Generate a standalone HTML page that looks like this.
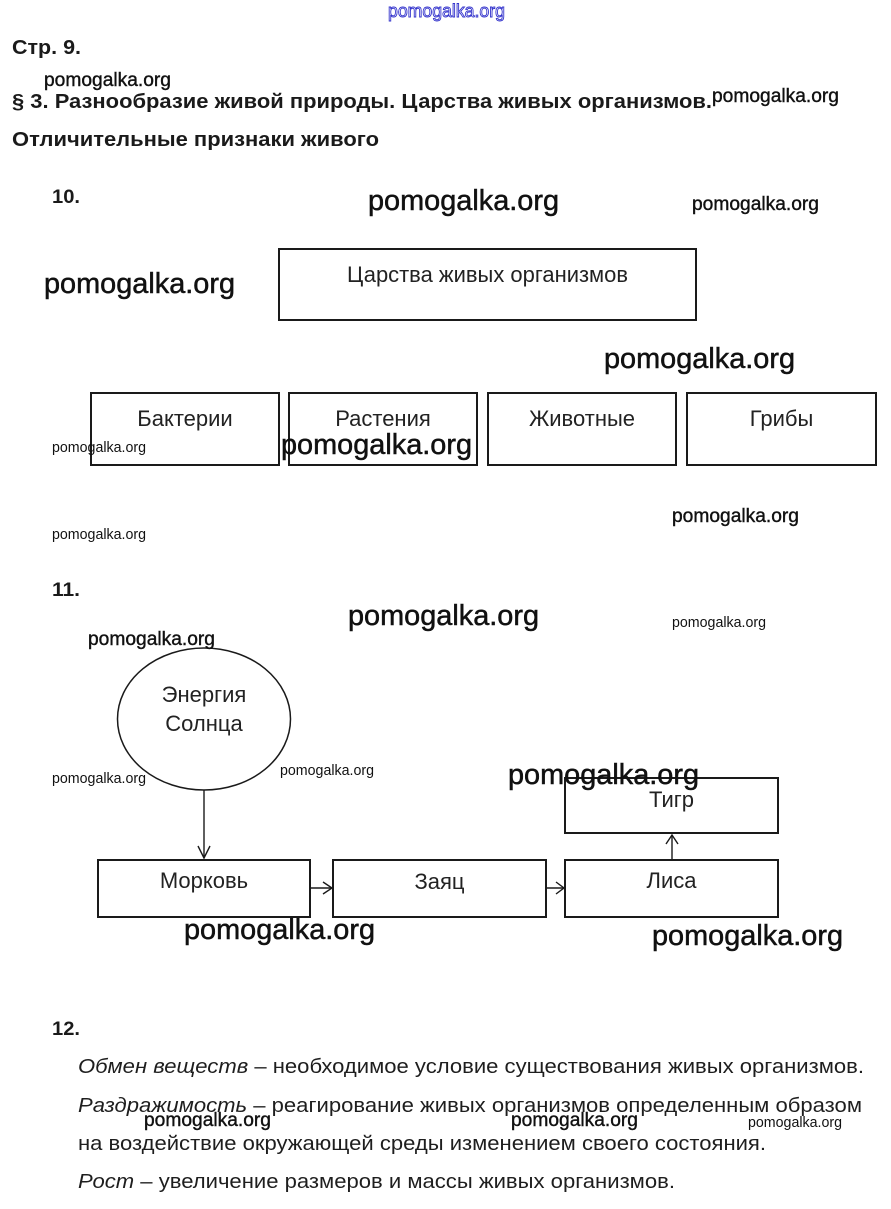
<!DOCTYPE html>
<html><head><meta charset="utf-8">
<style>
html,body{margin:0;padding:0;background:#fff;}
svg{display:block;}
.h{font-family:"Liberation Sans",Arial,sans-serif;font-weight:bold;fill:#1a1a1a;}
.t{font-family:"Liberation Sans",Arial,sans-serif;fill:#222;font-size:22px;}
.p{font-family:"Liberation Sans",Arial,sans-serif;fill:#1e1e1e;font-size:20px;}
.wl{font-family:"Liberation Sans",Arial,sans-serif;fill:#111;font-size:29px;stroke:#111;stroke-width:0.5;}
.wm{font-family:"Liberation Sans",Arial,sans-serif;fill:#111;font-size:19px;stroke:#111;stroke-width:0.4;}
.ws{font-family:"Liberation Sans",Arial,sans-serif;fill:#111;font-size:15px;}
.box{fill:none;stroke:#1a1a1a;stroke-width:2;}
.ln{fill:none;stroke:#1a1a1a;stroke-width:1.4;}
</style></head>
<body>
<svg width="891" height="1209" viewBox="0 0 891 1209" xmlns="http://www.w3.org/2000/svg">
<rect width="891" height="1209" fill="#fff"/>

<!-- top blue watermark -->
<text x="388" y="17" font-family="Liberation Sans, Arial, sans-serif" font-size="18" fill="#fff" stroke="#3333cc" stroke-width="0.9" textLength="117" lengthAdjust="spacingAndGlyphs">pomogalka.org</text>

<!-- headings -->
<text class="h" x="12" y="54" font-size="20" textLength="69" lengthAdjust="spacingAndGlyphs">Стр. 9.</text>
<text class="h" x="12" y="108" font-size="20" textLength="700" lengthAdjust="spacingAndGlyphs">§ 3. Разнообразие живой природы. Царства живых организмов.</text>
<text class="h" x="12" y="146" font-size="20" textLength="367" lengthAdjust="spacingAndGlyphs">Отличительные признаки живого</text>

<text class="h" x="52" y="203" font-size="19" textLength="28" lengthAdjust="spacingAndGlyphs">10.</text>
<text class="h" x="52" y="596" font-size="19" textLength="28" lengthAdjust="spacingAndGlyphs">11.</text>
<text class="h" x="52" y="1035" font-size="19" textLength="28" lengthAdjust="spacingAndGlyphs">12.</text>

<!-- diagram 10 -->
<rect class="box" x="279" y="249" width="417" height="71"/>
<text class="t" x="487.5" y="282" text-anchor="middle" textLength="281" lengthAdjust="spacingAndGlyphs">Царства живых организмов</text>

<rect class="box" x="91" y="393" width="188" height="72"/>
<rect class="box" x="289" y="393" width="188" height="72"/>
<rect class="box" x="488" y="393" width="188" height="72"/>
<rect class="box" x="687" y="393" width="189" height="72"/>
<text class="t" x="185" y="426" text-anchor="middle">Бактерии</text>
<text class="t" x="383" y="426" text-anchor="middle">Растения</text>
<text class="t" x="582" y="426" text-anchor="middle">Животные</text>
<text class="t" x="781.5" y="426" text-anchor="middle">Грибы</text>

<!-- diagram 11 -->
<ellipse cx="204" cy="719" rx="86.5" ry="71" fill="none" stroke="#1a1a1a" stroke-width="1.5"/>
<text class="t" x="204" y="702" text-anchor="middle">Энергия</text>
<text class="t" x="204" y="731" text-anchor="middle">Солнца</text>

<line class="ln" x1="204" y1="790" x2="204" y2="858"/>
<polyline class="ln" points="198,846 204,858 210,846"/>

<rect class="box" x="98" y="860" width="212" height="57"/>
<rect class="box" x="333" y="860" width="213" height="57"/>
<rect class="box" x="565" y="860" width="213" height="57"/>
<rect class="box" x="565" y="778" width="213" height="55"/>

<text class="t" x="204" y="888" text-anchor="middle">Морковь</text>
<text class="t" x="439.5" y="889" text-anchor="middle">Заяц</text>
<text class="t" x="671.5" y="888" text-anchor="middle">Лиса</text>
<text class="t" x="671.5" y="807" text-anchor="middle">Тигр</text>

<line class="ln" x1="310" y1="888" x2="332" y2="888"/>
<polyline class="ln" points="323,882 332,888 323,894"/>
<line class="ln" x1="546" y1="888" x2="564" y2="888"/>
<polyline class="ln" points="556,882 564,888 556,894"/>
<line class="ln" x1="672" y1="859" x2="672" y2="835"/>
<polyline class="ln" points="666,844 672,835 678,844"/>

<!-- section 12 -->
<text class="p" x="78" y="1073" textLength="786" lengthAdjust="spacingAndGlyphs"><tspan font-style="italic">Обмен веществ</tspan> – необходимое условие существования живых организмов.</text>
<text class="p" x="78" y="1112" textLength="784" lengthAdjust="spacingAndGlyphs"><tspan font-style="italic">Раздражимость</tspan> – реагирование живых организмов определенным образом</text>
<text class="p" x="78" y="1150" textLength="688" lengthAdjust="spacingAndGlyphs">на воздействие окружающей среды изменением своего состояния.</text>
<text class="p" x="78" y="1188" textLength="597" lengthAdjust="spacingAndGlyphs"><tspan font-style="italic">Рост</tspan> – увеличение размеров и массы живых организмов.</text>

<!-- watermarks -->
<text class="wm" x="44" y="86" textLength="127" lengthAdjust="spacingAndGlyphs">pomogalka.org</text>
<text class="wm" x="712" y="102" textLength="127" lengthAdjust="spacingAndGlyphs">pomogalka.org</text>
<text class="wl" x="368" y="210" textLength="191" lengthAdjust="spacingAndGlyphs">pomogalka.org</text>
<text class="wm" x="692" y="210" textLength="127" lengthAdjust="spacingAndGlyphs">pomogalka.org</text>
<text class="wl" x="44" y="293" textLength="191" lengthAdjust="spacingAndGlyphs">pomogalka.org</text>
<text class="wl" x="604" y="368" textLength="191" lengthAdjust="spacingAndGlyphs">pomogalka.org</text>
<text class="ws" x="52" y="452" textLength="94" lengthAdjust="spacingAndGlyphs">pomogalka.org</text>
<text class="wl" x="281" y="454" textLength="191" lengthAdjust="spacingAndGlyphs">pomogalka.org</text>
<text class="ws" x="52" y="539" textLength="94" lengthAdjust="spacingAndGlyphs">pomogalka.org</text>
<text class="wm" x="672" y="522" textLength="127" lengthAdjust="spacingAndGlyphs">pomogalka.org</text>
<text class="wl" x="348" y="625" textLength="191" lengthAdjust="spacingAndGlyphs">pomogalka.org</text>
<text class="ws" x="672" y="627" textLength="94" lengthAdjust="spacingAndGlyphs">pomogalka.org</text>
<text class="wm" x="88" y="645" textLength="127" lengthAdjust="spacingAndGlyphs">pomogalka.org</text>
<text class="ws" x="52" y="783" textLength="94" lengthAdjust="spacingAndGlyphs">pomogalka.org</text>
<text class="ws" x="280" y="775" textLength="94" lengthAdjust="spacingAndGlyphs">pomogalka.org</text>
<text class="wl" x="508" y="784" textLength="191" lengthAdjust="spacingAndGlyphs">pomogalka.org</text>
<text class="wl" x="184" y="939" textLength="191" lengthAdjust="spacingAndGlyphs">pomogalka.org</text>
<text class="wl" x="652" y="945" textLength="191" lengthAdjust="spacingAndGlyphs">pomogalka.org</text>
<text class="wm" x="144" y="1126" textLength="127" lengthAdjust="spacingAndGlyphs">pomogalka.org</text>
<text class="wm" x="511" y="1126" textLength="127" lengthAdjust="spacingAndGlyphs">pomogalka.org</text>
<text class="ws" x="748" y="1127" textLength="94" lengthAdjust="spacingAndGlyphs">pomogalka.org</text>
</svg>
</body></html>
